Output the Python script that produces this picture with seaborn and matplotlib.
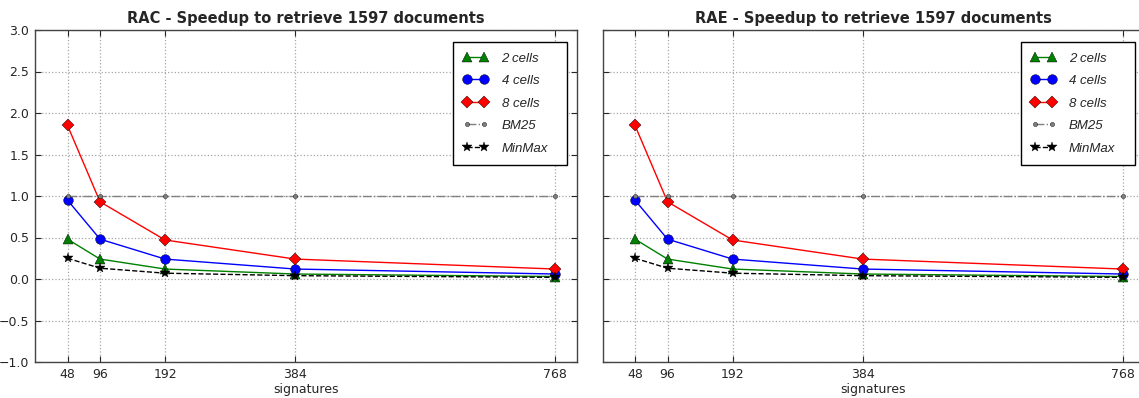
import numpy as np
import pandas as pd
import matplotlib
matplotlib.use("Agg")
import matplotlib.pyplot as plt
import seaborn as sns

# data
signatures = [48, 96, 192, 384, 768]
cells_2 = [0.48, 0.24, 0.12, 0.06, 0.03]
cells_4 = [0.95, 0.48, 0.24, 0.12, 0.06]
cells_8 = [1.85, 0.93, 0.47, 0.24, 0.12]
bm25 = [1.0, 1.0, 1.0, 1.0, 1.0]
minmax = [0.25, 0.13, 0.07, 0.04, 0.02]

titles = ["RAC - Speedup to retrieve 1597 documents",
          "RAE - Speedup to retrieve 1597 documents"]
yticks = [-1.0, -0.5, 0.0, 0.5, 1.0, 1.5, 2.0, 2.5, 3.0]

sns.set_style("white")
plt.rcParams["font.family"] = ["DejaVu Sans"]

W, H = 1139, 398
fig = plt.figure(figsize=(W / 100, H / 100), dpi=100)
fig.patch.set_facecolor("white")

ax_w = 542
ax1 = fig.add_axes([35 / W, (H - 362) / H, ax_w / W, 332 / H])
ax2 = fig.add_axes([602.5 / W, (H - 362) / H, ax_w / W, 332 / H], sharey=ax1)

series = [
    ("2 cells", cells_2, dict(color="green", marker="^", linestyle="-", markersize=7)),
    ("4 cells", cells_4, dict(color="blue", marker="o", linestyle="-", markersize=7)),
    ("8 cells", cells_8, dict(color="red", marker="D", linestyle="-", markersize=6.5)),
    ("BM25", bm25, dict(color="gray", marker=".", linestyle="-.", markersize=6)),
    ("MinMax", minmax, dict(color="black", marker="*", linestyle="--", markersize=7)),
]

for ax, title in zip([ax1, ax2], titles):
    for name, vals, st in series:
        sns.lineplot(x=signatures, y=vals, ax=ax, label=name, linewidth=1,
                     markeredgecolor="black", markeredgewidth=0.3, **st)
    ax.set_xlim(0, 800)
    ax.set_ylim(-1.0, 3.0)
    ax.set_xticks(signatures)
    ax.set_yticks(yticks)
    ax.grid(True, color="0.65", linestyle=":", linewidth=0.9)
    ax.set_title(title, fontsize=10.5, fontweight="bold", pad=5)
    ax.set_xlabel("signatures", fontsize=9, labelpad=2)
    ax.tick_params(direction="in", length=4, width=0.8, labelsize=9,
                   top=True, right=True, bottom=True, left=True, pad=4)
    for sp in ax.spines.values():
        sp.set_color("#444444")
        sp.set_linewidth(1.0)
    # legend box: x 453..567, top 42 (pixels)
    ax.legend(loc="upper left", mode="expand",
              bbox_to_anchor=((453 - 35) / ax_w, 1 - (42 - 30) / 332, 114 / ax_w, 0),
              borderaxespad=0, numpoints=2, fancybox=False, framealpha=1,
              edgecolor="black", borderpad=0.78, labelspacing=0.78,
              handlelength=1.9, handletextpad=1.0,
              prop={"family": "Liberation Sans", "style": "italic", "size": 9.5})

ax2.tick_params(labelleft=False)

fig.savefig("out.png", dpi=100)
